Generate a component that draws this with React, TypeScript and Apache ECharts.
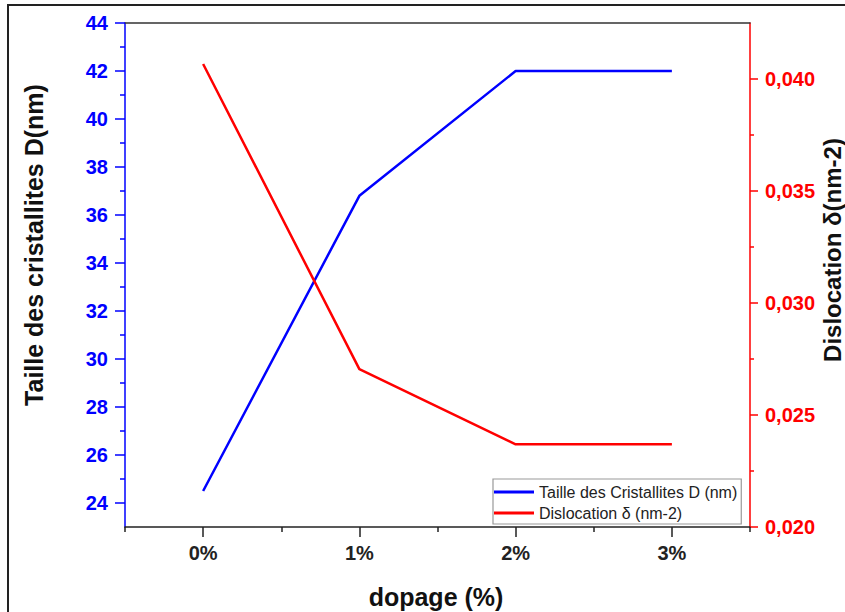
import React, { useEffect, useRef } from "react";
import * as echarts from "echarts";

const categories = ["0%", "1%", "2%", "3%"];
const crystalliteSize = [24.5, 36.8, 42, 42];
const dislocation = [0.04067, 0.02705, 0.02369, 0.02369];
const leftMajorTicks = [24, 26, 28, 30, 32, 34, 36, 38, 40, 42, 44];
const leftMinorTicks = [25, 27, 29, 31, 33, 35, 37, 39, 41, 43];
const rightMajorTicks = [0.02, 0.025, 0.03, 0.035, 0.04];
const rightMinorTicks = [0.0225, 0.0275, 0.0325, 0.0375];
const xMajorTicks = [0, 1, 2, 3];
const xMinorTicks = [-0.5, 0.5, 1.5, 2.5, 3.5];

const BLUE = "#0000ff";
const RED = "#ff0000";
const FONT = "Liberation Sans, Arial, sans-serif";

export default function App() {
  const ref = useRef<HTMLDivElement>(null);
  useEffect(() => {
    const chart = echarts.init(ref.current!, null, { renderer: "svg" });
    const labelStyle = (color: string) => ({
      color,
      fontWeight: "bold" as const,
      fontSize: 20,
      fontFamily: FONT,
    });
    chart.setOption({
      animation: false,
      backgroundColor: "#ffffff",
      grid: { left: 125, right: 95, top: 23, bottom: 85, containLabel: false },
      legend: {
        orient: "vertical",
        left: 493,
        top: 479,
        padding: [5, 4, 3, 1],
        itemWidth: 40,
        itemHeight: 3,
        itemGap: 5,
        borderColor: "#999999",
        borderWidth: 1.2,
        backgroundColor: "#ffffff",
        textStyle: { fontSize: 16, color: "#222222", fontFamily: FONT, lineHeight: 16 },
        data: [
          { name: "Taille des Cristallites D (nm)", icon: "rect" },
          { name: "Dislocation δ (nm-2)", icon: "rect" },
        ],
      },
      xAxis: [
        {
          type: "value",
          position: "bottom",
          min: -0.5,
          max: 3.5,
          axisLine: { show: true, onZero: false, lineStyle: { color: "#222222", width: 1.5 } },
          axisTick: { show: true, customValues: xMajorTicks, length: 10, inside: false, lineStyle: { color: "#222222", width: 1.5 } },
          axisLabel: {
            customValues: xMajorTicks,
            margin: 16,
            formatter: (v: number) => categories[Math.round(v)] ?? "",
            ...labelStyle("#222222"),
          },
          splitLine: { show: false },
        },
        {
          type: "value",
          position: "bottom",
          min: -0.5,
          max: 3.5,
          axisLine: { show: false, onZero: false },
          axisTick: { show: true, customValues: xMinorTicks, length: 5, inside: false, lineStyle: { color: "#222222", width: 1.5 } },
          axisLabel: { show: false },
          splitLine: { show: false },
        },
        {
          type: "value",
          position: "top",
          min: -0.5,
          max: 3.5,
          axisLine: { show: true, onZero: false, lineStyle: { color: "#333333", width: 1.5 } },
          axisTick: { show: false },
          axisLabel: { show: false },
          splitLine: { show: false },
        },
      ],
      yAxis: [
        {
          type: "value",
          position: "left",
          min: 23,
          max: 44,
          axisLine: { show: true, onZero: false, lineStyle: { color: BLUE, width: 1.5 } },
          axisTick: { show: true, customValues: leftMajorTicks, length: 10, inside: false, lineStyle: { color: BLUE, width: 1.5 } },
          axisLabel: { customValues: leftMajorTicks, margin: 17, ...labelStyle(BLUE) },
          splitLine: { show: false },
        },
        {
          type: "value",
          position: "left",
          min: 23,
          max: 44,
          axisLine: { show: false, onZero: false },
          axisTick: { show: true, customValues: leftMinorTicks, length: 5, inside: false, lineStyle: { color: BLUE, width: 1.5 } },
          axisLabel: { show: false },
          splitLine: { show: false },
        },
        {
          type: "value",
          position: "right",
          min: 0.02,
          max: 0.0425,
          axisLine: { show: true, onZero: false, lineStyle: { color: RED, width: 1.5 } },
          axisTick: { show: true, customValues: rightMajorTicks, length: 8, inside: false, lineStyle: { color: RED, width: 1.5 } },
          axisLabel: {
            customValues: rightMajorTicks,
            margin: 15,
            formatter: (v: number) => v.toFixed(3).replace(".", ","),
            ...labelStyle(RED),
          },
          splitLine: { show: false },
        },
        {
          type: "value",
          position: "right",
          min: 0.02,
          max: 0.0425,
          axisLine: { show: false, onZero: false },
          axisTick: { show: true, customValues: rightMinorTicks, length: 4, inside: false, lineStyle: { color: RED, width: 1.5 } },
          axisLabel: { show: false },
          splitLine: { show: false },
        },
      ],
      series: [
        {
          name: "Taille des Cristallites D (nm)",
          type: "line",
          xAxisIndex: 0,
          yAxisIndex: 0,
          data: crystalliteSize.map((v, i) => [i, v]),
          showSymbol: false,
          symbol: "none",
          lineStyle: { color: BLUE, width: 2.5 },
          itemStyle: { color: BLUE },
          z: 3,
        },
        {
          name: "Dislocation δ (nm-2)",
          type: "line",
          xAxisIndex: 0,
          yAxisIndex: 2,
          data: dislocation.map((v, i) => [i, v]),
          showSymbol: false,
          symbol: "none",
          lineStyle: { color: RED, width: 2.5 },
          itemStyle: { color: RED },
          z: 3,
        },
      ],
      graphic: [
        {
          type: "rect",
          shape: { x: 8, y: 5, width: 900, height: 700 },
          style: { fill: "none", stroke: "#222222", lineWidth: 2 },
          silent: true,
        },
        {
          type: "text",
          x: 34,
          y: 245,
          rotation: Math.PI / 2,
          style: {
            text: "Taille des cristallites D(nm)",
            fontSize: 25,
            fontWeight: "bold",
            fontFamily: FONT,
            fill: "#111111",
            textAlign: "center",
            textVerticalAlign: "middle",
          },
        },
        {
          type: "text",
          x: 832,
          y: 250,
          rotation: Math.PI / 2,
          style: {
            text: "Dislocation δ(nm-2)",
            fontSize: 24,
            fontWeight: "bold",
            fontFamily: FONT,
            fill: "#111111",
            textAlign: "center",
            textVerticalAlign: "middle",
          },
        },
        {
          type: "text",
          x: 436,
          y: 597,
          style: {
            text: "dopage (%)",
            fontSize: 25,
            fontWeight: "bold",
            fontFamily: FONT,
            fill: "#111111",
            textAlign: "center",
            textVerticalAlign: "middle",
          },
        },
      ],
    });
    return () => chart.dispose();
  }, []);
  return (
    <div
      ref={ref}
      style={{ position: "fixed", left: 0, top: 0, width: 845, height: 612 }}
    />
  );
}
